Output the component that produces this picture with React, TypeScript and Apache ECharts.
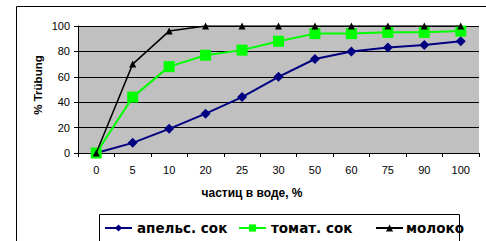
import React, { useEffect, useRef } from "react";
import * as echarts from "echarts";

const categories = ["0", "5", "10", "20", "25", "30", "50", "60", "75", "90", "100"];
const orangeJuice = [0, 8, 19, 31, 44, 60, 74, 80, 83, 85, 88];
const tomatoJuice = [0, 44, 68, 77, 81, 88, 94, 94, 95, 95, 96];
const milk = [0, 70, 96, 100, 100, 100, 100, 100, 100, 100, 100];
const seriesNames = ["апельс. сок", "томат. сок", "молоко"];

const FONT = "Liberation Sans, Arial, sans-serif";
const LEGEND_FONT = "DejaVu Sans, Verdana, sans-serif";

export default function App() {
  const ref = useRef<HTMLDivElement>(null);
  useEffect(() => {
    if (!ref.current) return;
    const chart = echarts.init(ref.current, null, { renderer: "svg" });
    const legendLefts = [104, 238, 375];
    const legendGaps = [5, 5, 3];
    chart.setOption({
      animation: false,
      backgroundColor: "#ffffff",
      textStyle: { fontFamily: FONT },
      grid: { left: 78, top: 26, width: 401, height: 127, backgroundColor: "#C0C0C0", show: true, borderWidth: 0 },
      xAxis: {
        type: "category",
        data: categories,
        boundaryGap: true,
        axisLine: { show: true, lineStyle: { color: "#000", width: 1 } },
        axisTick: { show: true, length: 4, lineStyle: { color: "#000" } },
        axisLabel: { color: "#000", fontSize: 11, margin: 11, fontFamily: FONT },
        splitLine: { show: false },
      },
      yAxis: {
        type: "value",
        min: 0,
        max: 100,
        interval: 20,
        axisLine: { show: true, lineStyle: { color: "#000", width: 1 } },
        axisTick: { show: true, length: 4, lineStyle: { color: "#000" } },
        axisLabel: { color: "#000", fontSize: 11, margin: 8, fontFamily: FONT },
        splitLine: { show: true, lineStyle: { color: "#000", width: 1 } },
      },
      legend: seriesNames.map((name, i) => ({
        left: legendLefts[i],
        top: 221,
        padding: 0,
        itemWidth: 27,
        itemHeight: 9,
        itemGap: 0,
        textStyle: { color: "#000", fontSize: 13.5, fontWeight: "bold", fontFamily: LEGEND_FONT, padding: [0, 0, 0, legendGaps[i] - 5] },
        data: [name],
      })),
      graphic: [
        { type: "rect", shape: { x: 16.5, y: 6.5, width: 480, height: 260 }, style: { fill: "none", stroke: "#000", lineWidth: 1 }, silent: true, z: -10 },
        { type: "rect", shape: { x: 99.5, y: 214.5, width: 360, height: 30 }, style: { fill: "none", stroke: "#000", lineWidth: 1 }, silent: true, z: -5 },
        {
          type: "text",
          x: 37.5,
          y: 85,
          rotation: Math.PI / 2,
          style: { text: "% Trübung", font: "bold 11.5px " + FONT, fill: "#000", align: "center", verticalAlign: "middle" },
        },
        {
          type: "text",
          x: 252,
          y: 193,
          style: { text: "частиц в воде, %", font: "bold 12px " + FONT, fill: "#000", align: "center", verticalAlign: "middle" },
        },
      ],
      series: [
        {
          name: seriesNames[0],
          type: "line",
          data: orangeJuice,
          color: "#000080",
          symbol: "diamond",
          symbolSize: 10,
          lineStyle: { width: 2, color: "#000080" },
          itemStyle: { color: "#000080" },
          z: 3,
        },
        {
          name: seriesNames[1],
          type: "line",
          data: tomatoJuice,
          color: "#00FF00",
          symbol: "rect",
          symbolSize: 11,
          lineStyle: { width: 2, color: "#00FF00" },
          itemStyle: { color: "#00FF00" },
          z: 4,
        },
        {
          name: seriesNames[2],
          type: "line",
          data: milk,
          color: "#000",
          symbol: "triangle",
          symbolSize: 7,
          lineStyle: { width: 1.5, color: "#000" },
          itemStyle: { color: "#000" },
          z: 5,
        },
      ],
    });
    return () => chart.dispose();
  }, []);
  return <div ref={ref} style={{ position: "fixed", left: 0, top: 0, width: 486, height: 241 }} />;
}
